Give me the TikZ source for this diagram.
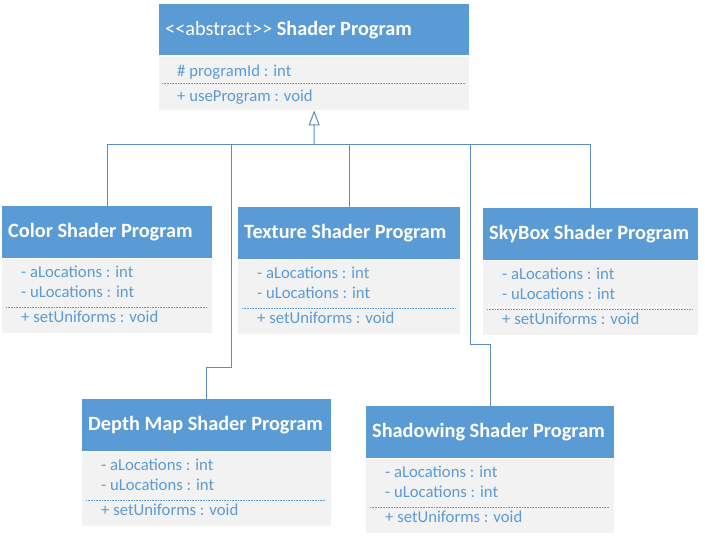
\documentclass[tikz,border=0pt]{standalone}
\usepackage{fontspec}
\newfontfamily\umlfont{Carlito}
\usetikzlibrary{arrows.meta}

\definecolor{umlblue}{HTML}{5B9BD5}
\definecolor{umlgrey}{HTML}{F2F2F2}
\definecolor{wireblue}{HTML}{5B8EC7}

\tikzset{
  headbox/.style={fill=umlblue, draw=none, inner sep=0pt, minimum height=52pt, anchor=north west},
  bodybox/.style={fill=umlgrey, draw=none, inner sep=0pt, minimum height=74pt, anchor=north west},
  titletext/.style={font=\umlfont\fontsize{20.3}{24}\selectfont, text=white, inner sep=0pt, anchor=base west},
  classtitle/.style={titletext, font=\umlfont\fontsize{20.3}{24}\selectfont\bfseries},
  membertext/.style={font=\umlfont\fontsize{16.7}{20}\selectfont, text=umlblue, inner sep=0pt, anchor=base west},
  separator/.style={draw=umlblue, line width=0.8pt, dash pattern=on 0.8pt off 0.8pt},
  wire/.style={draw=wireblue, line width=1pt},
  inherit/.style={-{Triangle[open, width=11pt, length=15pt, fill=white]}}
}

% a derived shader class: name, left, top, width, title
\newcommand\childclass[5]{%
  \begin{scope}[shift={(#2,#3)}]
    \node[headbox, minimum width=#4pt] (#1) at (0,0) {};
    \node[bodybox, minimum width=#4pt] (#1-body) at (0,53) {};
    \node[classtitle] (#1-title) at (6,31.5) {#5};
    \node[membertext] (#1-attrA) at (19,71.5) {- aLocations : int};
    \node[membertext] (#1-attrU) at (19,91.5) {- uLocations : int};
    \draw[separator] (4,101) -- ({#4-5},101);
    \node[membertext] (#1-op) at (19,116.5) {+ setUniforms : void};
  \end{scope}}

\begin{document}
\begin{tikzpicture}[x=1pt, y=-1pt]
  \useasboundingbox (0,0) rectangle (705,541);

  % abstract base class
  \node[headbox, minimum width=310pt, minimum height=51pt] (base) at (159,4) {};
  \node[bodybox, minimum width=310pt, minimum height=53pt] (base-body) at (159,57) {};
  \node[titletext] (base-title) at (165,35.5) {<{}<abstract>{}> \textbf{Shader Program}};
  \node[membertext] (base-attr) at (177,76.5) {\# programId : int};
  \draw[separator] (162,83) -- (466,83);
  \node[membertext] (base-op) at (177,101.5) {+ useProgram : void};

  % derived classes
  \childclass{color}{2}{206}{210}{Color Shader Program}
  \childclass{texture}{238}{207}{222}{Texture Shader Program}
  \childclass{skybox}{483}{208}{215}{SkyBox Shader Program}
  \childclass{depth}{82}{399}{249}{Depth Map Shader Program}
  \childclass{shadow}{366}{406}{248}{Shadowing Shader Program}

  % inheritance tree
  \coordinate (bus) at (314,144);
  \coordinate (depthbend) at (231,367);
  \coordinate (shadowbend) at (470,344);

  \draw[wire, inherit] (bus) -- (base-body.south);
  \draw[wire] (color.north) -- (color.north |- bus) -- (skybox.north |- bus) -- (skybox.north);
  \draw[wire] (texture.north) -- (texture.north |- bus);
  \draw[wire] (depth.north) |- (depthbend) -- (depthbend |- bus);
  \draw[wire] (shadow.north) |- (shadowbend) -- (shadowbend |- bus);
\end{tikzpicture}
\end{document}
